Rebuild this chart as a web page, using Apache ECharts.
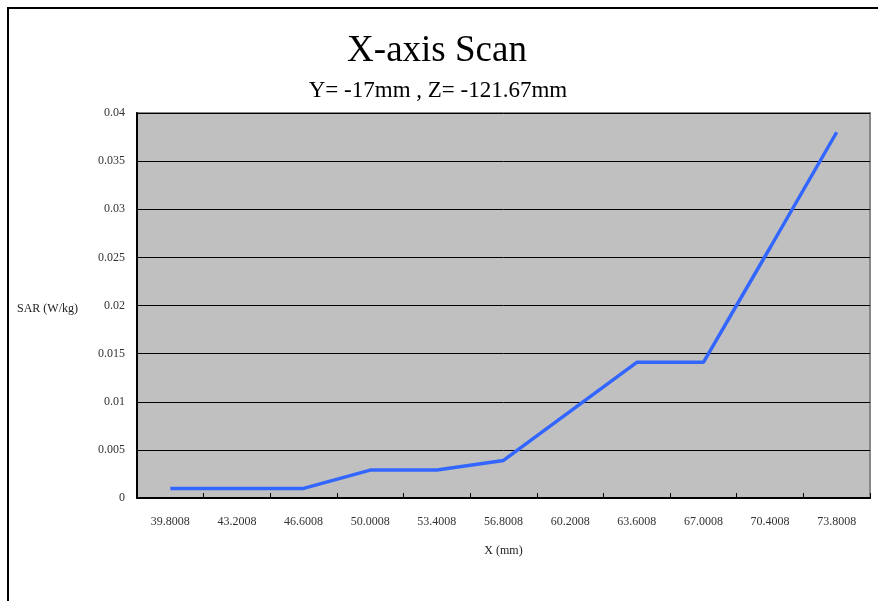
<!DOCTYPE html>
<html>
<head>
<meta charset="utf-8">
<script src="https://cdn.jsdelivr.net/npm/echarts@6/dist/echarts.min.js"></script>
<style>
  html, body { margin: 0; padding: 0; background: #fff; }
  #chart { width: 878px; height: 601px; }
</style>
</head>
<body>
<div id="chart"></div>
<script>
var xLabels = ['39.8008', '43.2008', '46.6008', '50.0008', '53.4008', '56.8008',
  '60.2008', '63.6008', '67.0008', '70.4008', '73.8008'];
var sarValues = [0.001, 0.001, 0.001, 0.0029, 0.0029, 0.0039, 0.009, 0.0141, 0.0141, 0.026, 0.038];

var serif = '"Liberation Serif", "DejaVu Serif", serif';

var myChart = echarts.init(document.getElementById('chart'));

var option = {
  animation: false,
  title: [
    {
      text: 'X-axis Scan',
      left: 432,
      top: 28,
      textAlign: 'center',
      textStyle: { fontFamily: serif, fontSize: 37, fontWeight: 'normal', color: '#000' },
    },
    {
      text: 'Y= -17mm , Z= -121.67mm',
      left: 433,
      top: 74,
      textAlign: 'center',
      textStyle: { fontFamily: serif, fontSize: 23, fontWeight: 'normal', color: '#000' },
    },
  ],
  graphic: [
    {
      type: 'polyline',
      shape: { points: [[8, 601], [8, 8], [878, 8]] },
      style: { stroke: '#000', lineWidth: 2, fill: null },
    },
    {
      type: 'text',
      left: 17,
      top: 303,
      style: { text: 'SAR (W/kg)', font: '12px ' + serif, fill: '#222' },
    },
  ],
  grid: {
    left: 137,
    right: 8,
    top: 113,
    bottom: 103,
    show: true,
    backgroundColor: '#c0c0c0',
    borderColor: '#888',
    borderWidth: 2,
  },
  xAxis: {
    type: 'category',
    data: xLabels,
    boundaryGap: true,
    name: 'X (mm)',
    nameLocation: 'middle',
    nameGap: 47,
    nameTextStyle: { fontFamily: serif, fontSize: 12, color: '#222' },
    axisLine: { lineStyle: { color: '#000', width: 2 } },
    axisTick: { show: true, inside: true, length: 5, lineStyle: { color: '#000' } },
    axisLabel: { fontFamily: serif, fontSize: 12, color: '#333', margin: 18, interval: 0 },
  },
  yAxis: {
    type: 'value',
    min: 0,
    max: 0.04,
    interval: 0.005,
    axisLine: { show: true, lineStyle: { color: '#000', width: 2 } },
    axisTick: { show: false },
    axisLabel: { fontFamily: serif, fontSize: 12, color: '#333', margin: 12 },
    splitLine: { lineStyle: { color: '#000', width: 1 } },
  },
  series: [
    {
      type: 'line',
      data: sarValues,
      symbol: 'none',
      lineStyle: { color: '#3366ff', width: 3.5 },
    },
  ],
};

myChart.setOption(option);
</script>
</body>
</html>
